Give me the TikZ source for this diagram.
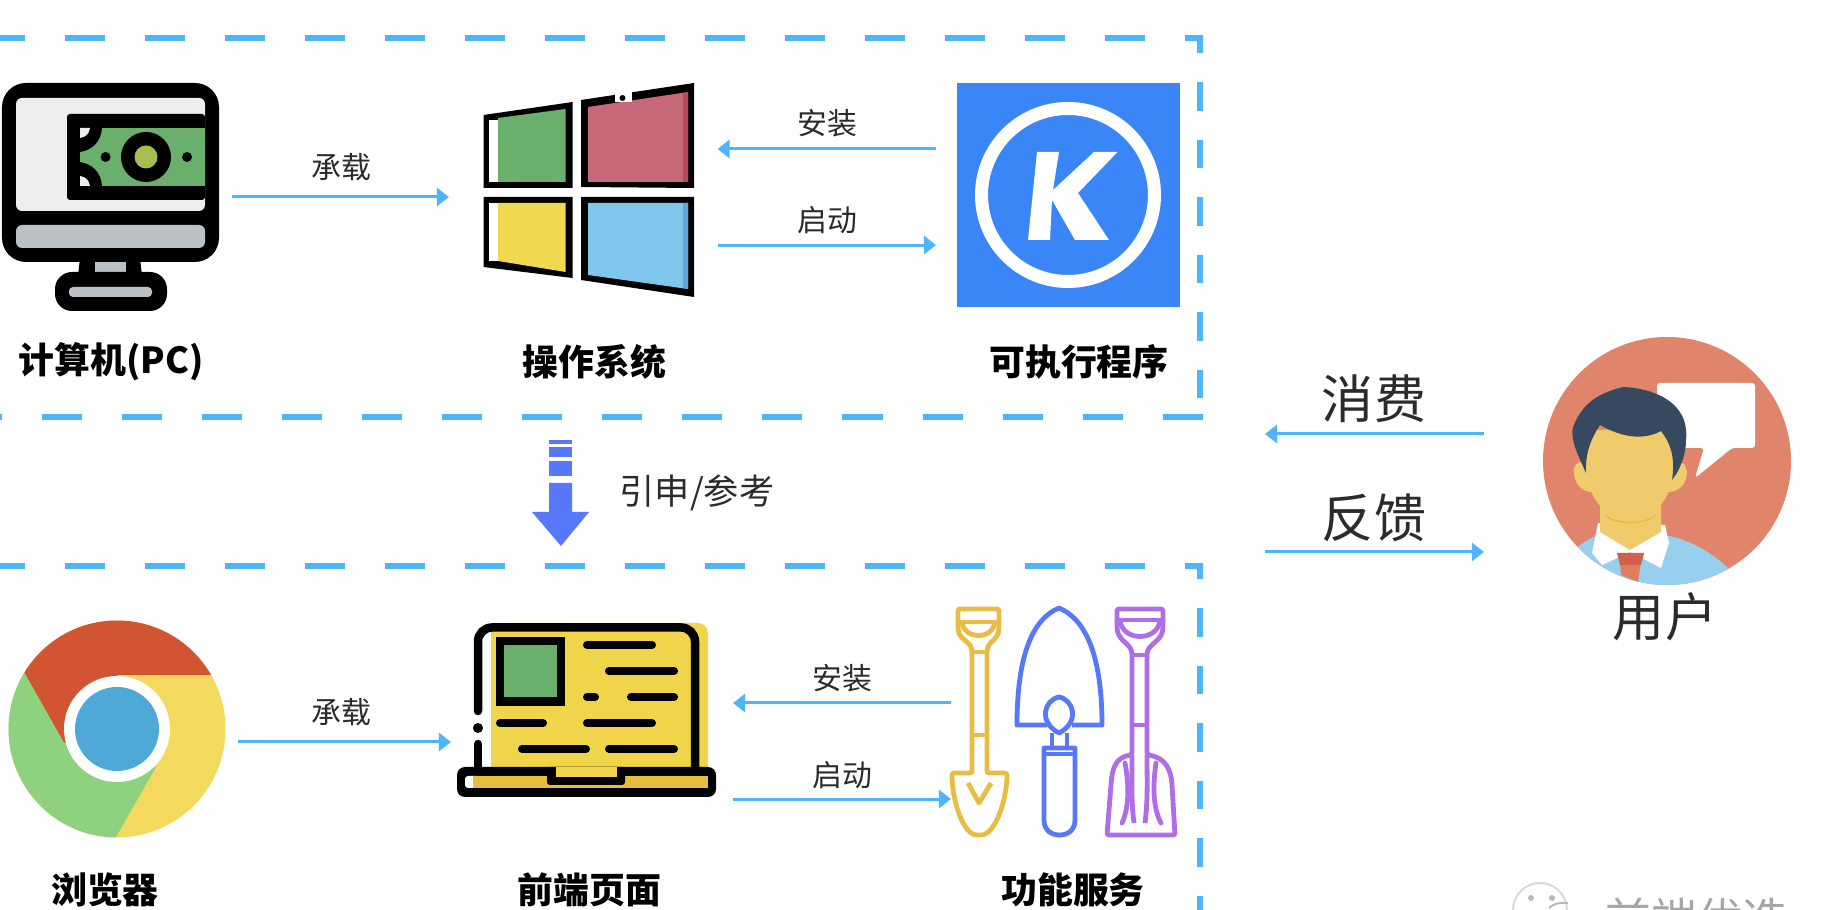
\documentclass[tikz,border=0pt]{standalone}
\usepackage{fontspec}
\setmainfont{Noto Sans CJK SC}
\newfontfamily\cjkhead[UprightFont=* Black]{Noto Sans CJK SC}
\usetikzlibrary{arrows.meta}
\definecolor{flowblue}{HTML}{4DB5FA}
\definecolor{darktext}{HTML}{2B2B2B}
\definecolor{arrowblue}{HTML}{5878FA}
\definecolor{kugoublue}{HTML}{3B86F7}
\definecolor{billgreen}{HTML}{6AB06C}
\definecolor{billcoin}{HTML}{A8BE4E}
\definecolor{paneyellow}{HTML}{F0D94F}
\definecolor{panered}{HTML}{C76878}
\definecolor{panedark}{HTML}{B94A5C}
\definecolor{paneblue}{HTML}{7EC6EC}
\definecolor{paneshade}{HTML}{5DA5DA}
\definecolor{screengray}{HTML}{ECEEEE}
\definecolor{basegray}{HTML}{BCC1C5}
\definecolor{chromered}{HTML}{D15530}
\definecolor{chromeyellow}{HTML}{F3DA5E}
\definecolor{chromegreen}{HTML}{8ED27F}
\definecolor{chromeblue}{HTML}{4FA9D7}
\definecolor{laptopyellow}{HTML}{F0D44A}
\definecolor{laptopbase}{HTML}{E8BC3C}
\definecolor{toolgold}{HTML}{E9BC45}
\definecolor{toolpurple}{HTML}{B06EE6}
\definecolor{usersalmon}{HTML}{E0856B}
\definecolor{userhair}{HTML}{36495F}
\definecolor{userface}{HTML}{F0CB6C}
\definecolor{usershirt}{HTML}{97D0EE}
\definecolor{usertie}{HTML}{D1604A}
\definecolor{usertielow}{HTML}{DE7D60}

\begin{document}
\begin{tikzpicture}[x=0.01cm, y=-0.01cm,
        flow/.style={-{Triangle[length=0.12cm,width=0.18cm]}, flowblue, line width=0.03cm},
        hdash/.style={flowblue, line width=0.065cm, dash pattern=on 0.4cm off 0.4cm},
        vdash/.style={flowblue, line width=0.065cm, dash pattern=on 0.285cm off 0.29cm},
        iconbox/.style={inner sep=0pt, outer sep=0pt, minimum height=2.28cm},
        tag/.style={text=darktext, font=\fontsize{8.5}{10}\selectfont},
        heading/.style={text=black, font=\cjkhead\fontsize{10.2}{12}\selectfont},
        big/.style={text=darktext, font=\fontsize{14.8}{17}\selectfont},
        toolline/.style={line width=0.048cm, line join=round},
        frame/.style={line width=0.085cm, line cap=round, rounded corners=0.14cm},
        textline/.style={line width=0.08cm, line cap=round}]
        \useasboundingbox (0,0) rectangle (1842,910);
        \clip (0,0) rectangle (1842,910);

        \draw[hdash, dash phase=0.153cm] (0,38) -- (1203,38);
        \draw[hdash, dash phase=0.38cm] (0,417) -- (1203,417);
        \draw[vdash, dash phase=0.135cm] (1200,38) -- (1200,400);
        \draw[hdash, dash phase=0.153cm] (0,566) -- (1203,566);
        \draw[vdash, dash phase=0.155cm] (1200,566) -- (1200,915);

        \node[iconbox, minimum width=2.30cm] (pc) at (117,197) {};
        \node[iconbox, minimum width=2.685cm] (win) at (583.25,197) {};
        \node[iconbox, minimum width=2.44cm] (kugou) at (1058,197) {};
        \node[iconbox, minimum width=2.295cm] (chrome) at (123.25,742) {};
        \node[iconbox, minimum width=2.82cm] (laptop) at (592,742) {};
        \node[iconbox, minimum width=2.29cm] (tools) at (1065.5,742) {};
        \node[iconbox, minimum width=3.07cm] (user) at (1637.5,493) {};
        \coordinate (consume) at (1265,434);
        \coordinate (feedback) at (1265,552);

        \fill[rounded corners=0.24cm] (2,83) rectangle (219,262);
        \fill[screengray, rounded corners=0.06cm] (16,98) rectangle (205,211);
        \fill[basegray, rounded corners=0.06cm] (16,225) rectangle (205,248);
        \fill (80,258) -- (140,258) -- (142,276) -- (78,276) -- cycle;
        \fill[basegray] (95,262) rectangle (126,272);
        \fill[rounded corners=0.17cm] (55,272) rectangle (167,311);
        \fill[basegray, rounded corners=0.04cm] (69,287) rectangle (152,297);
        \fill[rounded corners=0.03cm] (67,114) -- (205,114) -- (205,200) -- (67,200) -- cycle;
        \fill[billgreen] (80,128) rectangle (205,186);
        \fill (80,128) -- (102,128) .. controls (101,142) and (92,150) .. (80,152) -- cycle;
        \fill (80,186) -- (102,186) .. controls (101,172) and (92,164) .. (80,162) -- cycle;
        \fill[screengray] (80,128) -- (90,128) .. controls (89,134) and (86,137) .. (80,138) -- cycle;
        \fill[screengray] (80,186) -- (90,186) .. controls (89,180) and (86,177) .. (80,176) -- cycle;
        \fill (146,157) circle[radius=25];
        \fill[billcoin] (146,157) circle[radius=11.5];
        \fill (105.6,157) circle[radius=5];
        \fill (187,157) circle[radius=5];

        \fill (483.5,115) -- (572.5,102) -- (572.5,188) -- (483.5,188) -- cycle;
        \fill[white] (489,120) rectangle (498,182);
        \fill[billgreen] (498,118) -- (565.6,109) -- (565.6,182) -- (498,182) -- cycle;
        \fill (581,100) -- (694,83) -- (694,188) -- (581,187) -- cycle;
        \fill[panered] (588,107) -- (688,92) -- (688,182) -- (588,182) -- cycle;
        \fill[panedark] (683,93) -- (688,92) -- (688,182) -- (683,182) -- cycle;
        \fill[white] (615,92) rectangle (632,102);
        \fill (622.5,98) circle[radius=3];
        \fill (483.5,197) -- (572.5,197) -- (572.5,278) -- (483.5,267) -- cycle;
        \fill[white] (489,203) rectangle (498,261);
        \fill[paneyellow] (498,203) -- (565.6,203) -- (565.6,272) -- (498,261) -- cycle;
        \fill (581,197) -- (694,197) -- (694,297) -- (581,280) -- cycle;
        \fill[paneblue] (588,203) -- (688,203) -- (688,289) -- (588,275) -- cycle;
        \fill[paneshade] (683,203) -- (688,203) -- (688,289) -- (683,288) -- cycle;

        \fill[kugoublue] (957,83) rectangle (1180,307);
        \draw[white, line width=0.13cm] (1068,195) circle[radius=86.5];
        \fill[white] (1037,152) -- (1059,152) -- (1053,190) -- (1094,152) -- (1117.5,152) -- (1078,193) -- (1109,240) -- (1075,240) -- (1052,200) -- (1050,240) -- (1028,240) -- cycle;

        \begin{scope}
            \clip (117,729) circle[radius=108.5];
            \fill[chromeyellow] (0,610) rectangle (240,850);
            \fill[chromered] (117,729) -- (64,743) -- (24.5,673) -- (0,610) -- (240,610) -- (211,675) -- (117,675) -- cycle;
            \fill[chromegreen] (64,743) -- (24.5,673) -- (0,640) -- (0,850) -- (116,850) -- (116,837) -- (156,767) -- (117,729) -- cycle;
        \end{scope}
        \fill[white] (117,729) circle[radius=53];
        \fill[chromeblue] (117,729) circle[radius=42];

        \fill[laptopyellow, rounded corners=0.1cm] (491,623) rectangle (708,775);
        \draw[frame] (478,711) -- (478,627.5) -- (695,627.5) -- (695,770);
        \draw[frame] (478,744) -- (478,770);
        \fill (478,728) circle[radius=5];
        \fill[rounded corners=0.08cm] (457,767) rectangle (716,797);
        \fill[white, rounded corners=0.03cm] (465,776) rectangle (480,788);
        \fill[laptopbase] (473,776) rectangle (708,788);
        \fill[rounded corners=0.03cm] (547,767) rectangle (625,785);
        \fill[laptopyellow] (556,767) rectangle (617,777);
        \fill (495.5,637) rectangle (565,706);
        \fill[billgreen] (504,645) rectangle (557,697);
        \draw[textline] (587,645) -- (652,645);
        \draw[textline] (609,671) -- (674,671);
        \draw[textline] (587,697) -- (595,697);
        \draw[textline] (631,697) -- (674,697);
        \draw[textline] (500,723) -- (543,723);
        \draw[textline] (587,723) -- (652,723);
        \draw[textline] (522,749) -- (586,749);
        \draw[textline] (609,749) -- (674,749);

        \draw[toolline, toolgold, rounded corners=0.02cm] (958,609) -- (999,609) -- (999,625) .. controls (999,640) and (990,640) .. (987,650) -- (987,773) -- (1007,773) .. controls (1007,800) and (995,835) .. (979,835) .. controls (963,835) and (952,800) .. (952,773) -- (972,773) -- (972,650) .. controls (969,640) and (958,640) .. (958,625) -- cycle;
        \draw[toolline, toolgold] (959,622) -- (998,622);
        \draw[toolline, toolgold] (962,622) .. controls (964,640) and (993,640) .. (995,622);
        \draw[toolline, toolgold] (972,652) -- (987,652);
        \draw[toolline, toolgold] (972,735) -- (987,735);
        \draw[toolline, toolgold] (968,783) -- (979,803) -- (991,783);

        \draw[toolline, arrowblue] (1047,725) -- (1017,725) .. controls (1017,650) and (1035,618) .. (1059,608) .. controls (1083,618) and (1102,650) .. (1102,725) -- (1072,725);
        \draw[toolline, arrowblue] (1059,697) .. controls (1044,700) and (1038,722) .. (1059,733) .. controls (1080,722) and (1074,700) .. (1059,697) -- cycle;
        \draw[toolline, arrowblue] (1052,733) -- (1052,748);
        \draw[toolline, arrowblue] (1067,733) -- (1067,748);
        \draw[toolline, arrowblue] (1044,748) -- (1075,748) -- (1075,820) .. controls (1075,830) and (1068,835) .. (1059.5,835) .. controls (1051,835) and (1044,830) .. (1044,820) -- cycle;
        \draw[toolline, arrowblue] (1044,754) -- (1075,754);

        \draw[toolline, toolpurple, rounded corners=0.02cm] (1117,609) -- (1163,609) -- (1163,625) .. controls (1163,640) and (1152,642) .. (1147,652) -- (1147,755) .. controls (1165,757) and (1171,770) .. (1172,785) -- (1175,835) -- (1107,835) -- (1111,785) .. controls (1112,770) and (1115,757) .. (1132,755) -- (1132,652) .. controls (1128,642) and (1117,640) .. (1117,625) -- cycle;
        \draw[toolline, toolpurple] (1118,620) -- (1162,620);
        \draw[toolline, toolpurple] (1120,620) .. controls (1122,642) and (1158,642) .. (1160,620);
        \draw[toolline, toolpurple] (1132,655) -- (1147,655);
        \draw[toolline, toolpurple] (1132,725) -- (1147,725);
        \draw[toolline, toolpurple] (1132,755) .. controls (1132,780) and (1131,800) .. (1134,823);
        \draw[toolline, toolpurple] (1147,755) .. controls (1147,780) and (1148,800) .. (1145,823);
        \draw[toolline, toolpurple, line cap=round] (1125,763) .. controls (1130,790) and (1128,810) .. (1122,823);
        \draw[toolline, toolpurple, line cap=round] (1156,763) .. controls (1152,790) and (1154,810) .. (1161,823);

        \fill[usersalmon] (1667,461) circle[radius=124];
        \fill[white, rounded corners=0.03cm] (1657,383) -- (1755,383) -- (1755,448) -- (1732,448) -- (1695,478) -- (1704,448) -- (1657,448) -- cycle;
        \begin{scope}
            \clip (1667,461) circle[radius=124];
            \fill[usershirt] (1565,560) .. controls (1580,542) and (1592,537) .. (1600,535) -- (1665,535) .. controls (1690,540) and (1712,552) .. (1730,570) -- (1730,600) -- (1565,600) -- cycle;
            \fill[white] (1598,523) -- (1592,553) -- (1602,565) -- (1630,552) -- (1661,568) -- (1669,543) -- (1665,525) -- cycle;
            \fill[usertielow] (1620,562) -- (1641,562) -- (1638,582) -- (1621,575) -- cycle;
            \fill[usertie] (1617,553) -- (1644,553) -- (1641,565) -- (1620,565) -- cycle;
        \end{scope}
        \fill[userface] (1600,500) -- (1661,500) -- (1661,532) -- (1630,550) -- (1600,532) -- cycle;
        \fill[userface] (1586,463) .. controls (1568,455) and (1570,492) .. (1592,492) -- (1668,492) .. controls (1692,492) and (1692,455) .. (1674,463) -- cycle;
        \fill[userface] (1586,430) -- (1674,430) -- (1674,475) .. controls (1668,505) and (1650,520) .. (1630,520) .. controls (1610,520) and (1592,505) .. (1586,475) -- cycle;
        \draw[laptopbase, line width=0.015cm] (1605,515) .. controls (1615,525) and (1645,525) .. (1656,515);
        \fill[userhair] (1586,473) .. controls (1578,455) and (1570,440) .. (1573,427) .. controls (1580,410) and (1590,395) .. (1623,387) .. controls (1650,388) and (1690,400) .. (1686,440) .. controls (1686,455) and (1680,470) .. (1672,480) .. controls (1675,460) and (1672,445) .. (1661,431) .. controls (1650,437) and (1630,442) .. (1600,425) .. controls (1590,440) and (1585,455) .. (1586,473) -- cycle;

        \fill[arrowblue] (549,440) rectangle (572,444);
        \fill[arrowblue] (549,447) rectangle (572,457);
        \fill[arrowblue] (549,461) rectangle (572,476);
        \fill[arrowblue] (549,483) -- (572,483) -- (572,512) -- (589,512) -- (561,546) -- (532,512) -- (549,512) -- cycle;

        \draw[flow] (pc.east) -- (win.west);
        \draw[flow] ([yshift=0.48cm]kugou.west) -- ([yshift=0.48cm]win.east);
        \draw[flow] ([yshift=-0.48cm]win.east) -- ([yshift=-0.48cm]kugou.west);
        \draw[flow] (chrome.east) -- (laptop.west);
        \draw[flow] ([yshift=0.39cm]tools.west) -- ([yshift=0.39cm]laptop.east);
        \draw[flow] ([yshift=-0.57cm]laptop.east) -- ([yshift=-0.57cm]tools.west);
        \draw[flow] (user.west |- consume) -- (consume);
        \draw[flow] (feedback) -- (user.west |- feedback);

        \node[tag] (carrytop) at (341.5,167) {承载};
        \node[tag] (installtop) at (827,123) {安装};
        \node[tag] (starttop) at (827,220) {启动};
        \node[tag] (carrybottom) at (341,712) {承载};
        \node[tag] (installbottom) at (842,678) {安装};
        \node[tag] (startbottom) at (842,775) {启动};
        \node[tag, font=\fontsize{10}{12}\selectfont] (refer) at (697,493) {引申/参考};
        \node[big] (consumelabel) at (1374,399) {消费};
        \node[big] (feedbacklabel) at (1374,518) {反馈};
        \node[big] (userlabel) at (1665,617) {用户};

        \node[heading] (pclabel) at (111,362) {计算机(PC)};
        \node[heading] (oslabel) at (594.5,362) {操作系统};
        \node[heading] (exelabel) at (1079,362) {可执行程序};
        \node[heading] (browserlabel) at (105,890) {浏览器};
        \node[heading] (pagelabel) at (589.5,890) {前端页面};
        \node[heading] (servicelabel) at (1073,890) {功能服务};

        \draw[gray!30, line width=0.02cm] (1540,910) ellipse[x radius=27, y radius=27];
        \fill[gray!55] (1531,898) circle[radius=3];
        \fill[gray!55] (1552,898) circle[radius=3];
        \draw[gray!55, line width=0.02cm] (1549,908) .. controls (1553,904) and (1560,902) .. (1568,903);
        \node[text=gray!70, font=\fontsize{13}{15}\selectfont] (mark) at (1697,919) {前端优选};
    \end{tikzpicture}
\end{document}
